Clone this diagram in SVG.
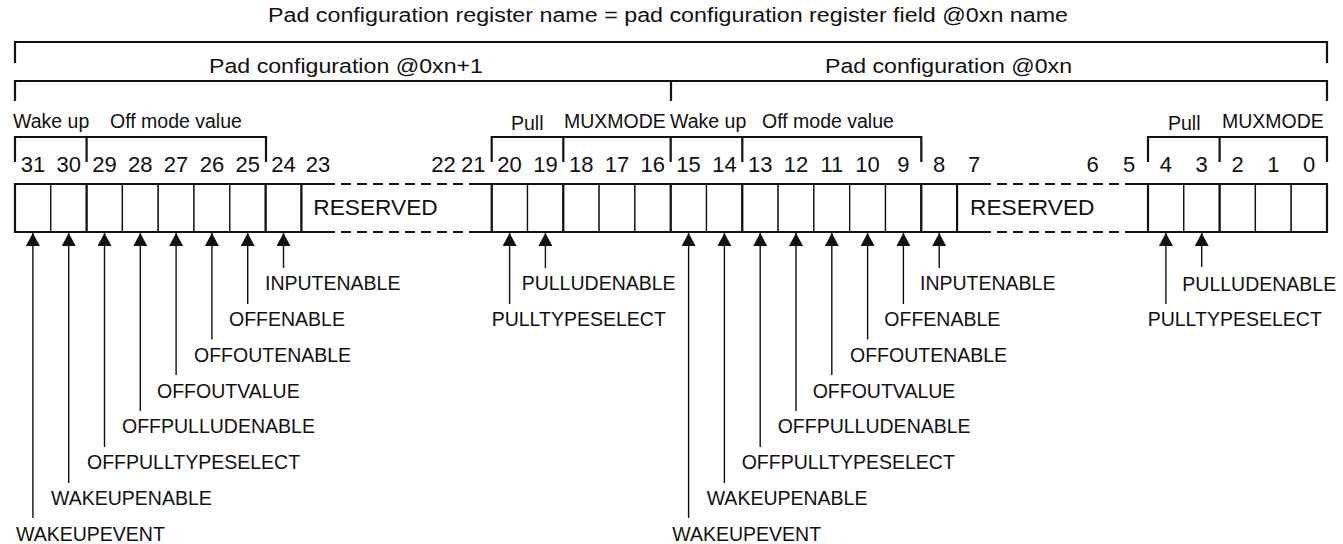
<svg xmlns="http://www.w3.org/2000/svg" width="1343" height="544" viewBox="0 0 1343 544">
<defs>
<style>
text{font-family:"Liberation Sans",Arial,sans-serif;fill:#111}
.hdr{font-size:20px}
.cfg{font-size:20.5px}
.fld{font-size:19.5px}
.bit{font-size:22px;text-anchor:middle}
.res{font-size:22.7px}
.lbl{font-size:19.5px}
.br{fill:none;stroke:#111;stroke-width:2.2}
.cell{fill:#fff;stroke:#111;stroke-width:1.3}
.thick{stroke:#111;stroke-width:2.2;fill:none}
.dash{stroke:#111;stroke-width:2.2;fill:none;stroke-dasharray:10 6}
.arr{stroke:#111;stroke-width:1.4;fill:none;marker-end:url(#ah)}
</style>
<marker id="ah" markerUnits="userSpaceOnUse" markerWidth="14" markerHeight="14" refX="13" refY="7" orient="auto">
<path d="M0,0 L13,7 L0,14 z" fill="#111"/>
</marker>
</defs>
<rect width="1343" height="544" fill="#fff"/>

<g id="header">
<text class="hdr" x="268" y="22" textLength="800" lengthAdjust="spacingAndGlyphs">Pad configuration register name = pad configuration register field @0xn name</text>
<path class="br" d="M15,63 V42 H1327 V63"/>
</g>

<g id="pad-config-n1">
<text class="cfg" x="209" y="73" textLength="274" lengthAdjust="spacingAndGlyphs">Pad configuration @0xn+1</text>
<path class="br" d="M15,101 V81 H671"/>
</g>
<g id="pad-config-n">
<text class="cfg" x="825" y="73" textLength="247" lengthAdjust="spacingAndGlyphs">Pad configuration @0xn</text>
<path class="br" d="M671,81 H1327 V101 M671,81 V101"/>
</g>

<g id="field-brackets">
<text class="fld" x="13" y="128">Wake up</text>
<text class="fld" x="110" y="128">Off mode value</text>
<path class="br" d="M15,162 V137 H266 V162 M86.6,137 V162"/>
<text class="fld" x="511" y="130">Pull</text>
<text class="fld" x="564" y="128">MUXMODE</text>
<text class="fld" x="670" y="128">Wake up</text>
<text class="fld" x="762" y="128">Off mode value</text>
<path class="br" d="M491.7,162 V137 H921.3 V162 M563.3,137 V162 M670.7,137 V162 M742.3,137 V162"/>
<text class="fld" x="1168" y="130">Pull</text>
<text class="fld" x="1222" y="128">MUXMODE</text>
<path class="br" d="M1148,162 V137 H1327 V162 M1219.6,137 V162"/>
</g>

<g id="bit-numbers">
<text class="bit" x="32.9" y="172">31</text>
<text class="bit" x="68.7" y="172">30</text>
<text class="bit" x="104.5" y="172">29</text>
<text class="bit" x="140.3" y="172">28</text>
<text class="bit" x="176.1" y="172">27</text>
<text class="bit" x="211.9" y="172">26</text>
<text class="bit" x="247.7" y="172">25</text>
<text class="bit" x="283.5" y="172">24</text>
<text class="bit" x="318" y="172">23</text>
<text class="bit" x="443.5" y="172">22</text>
<text class="bit" x="473.3" y="172">21</text>
<text class="bit" x="509.6" y="172">20</text>
<text class="bit" x="545.4" y="172">19</text>
<text class="bit" x="581.2" y="172">18</text>
<text class="bit" x="617" y="172">17</text>
<text class="bit" x="652.8" y="172">16</text>
<text class="bit" x="688.6" y="172">15</text>
<text class="bit" x="724.4" y="172">14</text>
<text class="bit" x="760.2" y="172">13</text>
<text class="bit" x="796" y="172">12</text>
<text class="bit" x="831.8" y="172">11</text>
<text class="bit" x="867.6" y="172">10</text>
<text class="bit" x="903.4" y="172">9</text>
<text class="bit" x="939.2" y="172">8</text>
<text class="bit" x="974" y="172">7</text>
<text class="bit" x="1092.5" y="172">6</text>
<text class="bit" x="1129" y="172">5</text>
<text class="bit" x="1165.9" y="172">4</text>
<text class="bit" x="1201.7" y="172">3</text>
<text class="bit" x="1237.5" y="172">2</text>
<text class="bit" x="1273.3" y="172">1</text>
<text class="bit" x="1309.1" y="172">0</text>
</g>

<g id="register-n1-high">
<rect class="cell" x="15" y="184" width="35.8" height="48"/>
<rect class="cell" x="50.8" y="184" width="35.8" height="48"/>
<rect class="cell" x="86.6" y="184" width="35.8" height="48"/>
<rect class="cell" x="122.4" y="184" width="35.8" height="48"/>
<rect class="cell" x="158.2" y="184" width="35.8" height="48"/>
<rect class="cell" x="194" y="184" width="35.8" height="48"/>
<rect class="cell" x="229.8" y="184" width="35.8" height="48"/>
<rect class="cell" x="265.6" y="184" width="35.8" height="48"/>
<path class="thick" d="M15,184 H301.4 V232 H15 Z M86.6,184 V232 M265.6,184 V232"/>
</g>
<g id="reserved-n1">
<path class="thick" d="M301.4,184 H325 M301.4,232 H325 M477,184 H491.7 M477,232 H491.7"/>
<path class="dash" d="M325,184 H477 M325,232 H477"/>
<text class="res" x="313.3" y="215">RESERVED</text>
</g>
<g id="register-mid">
<rect class="cell" x="491.7" y="184" width="35.8" height="48"/>
<rect class="cell" x="527.5" y="184" width="35.8" height="48"/>
<rect class="cell" x="563.3" y="184" width="35.8" height="48"/>
<rect class="cell" x="599.1" y="184" width="35.8" height="48"/>
<rect class="cell" x="634.9" y="184" width="35.8" height="48"/>
<rect class="cell" x="670.7" y="184" width="35.8" height="48"/>
<rect class="cell" x="706.5" y="184" width="35.8" height="48"/>
<rect class="cell" x="742.3" y="184" width="35.8" height="48"/>
<rect class="cell" x="778.1" y="184" width="35.8" height="48"/>
<rect class="cell" x="813.9" y="184" width="35.8" height="48"/>
<rect class="cell" x="849.7" y="184" width="35.8" height="48"/>
<rect class="cell" x="885.5" y="184" width="35.8" height="48"/>
<rect class="cell" x="921.3" y="184" width="35.8" height="48"/>
<path class="thick" d="M491.7,184 H957.1 V232 H491.7 Z M563.3,184 V232 M670.7,184 V232 M742.3,184 V232 M921.3,184 V232"/>
</g>
<g id="reserved-n">
<path class="thick" d="M957.1,184 H981 M957.1,232 H981 M1130,184 H1148 M1130,232 H1148"/>
<path class="dash" d="M981,184 H1130 M981,232 H1130"/>
<text class="res" x="970" y="215">RESERVED</text>
</g>
<g id="register-n-low">
<rect class="cell" x="1148" y="184" width="35.8" height="48"/>
<rect class="cell" x="1183.8" y="184" width="35.8" height="48"/>
<rect class="cell" x="1219.6" y="184" width="35.8" height="48"/>
<rect class="cell" x="1255.4" y="184" width="35.8" height="48"/>
<rect class="cell" x="1291.2" y="184" width="35.8" height="48"/>
<path class="thick" d="M1148,184 H1327 V232 H1148 Z M1219.6,184 V232"/>
</g>

<g id="connectors">
<line class="arr" x1="283.5" y1="268" x2="283.5" y2="233"/>
<line class="arr" x1="247.7" y1="304" x2="247.7" y2="233"/>
<line class="arr" x1="211.9" y1="339.5" x2="211.9" y2="233"/>
<line class="arr" x1="176.1" y1="375" x2="176.1" y2="233"/>
<line class="arr" x1="140.3" y1="411" x2="140.3" y2="233"/>
<line class="arr" x1="104.5" y1="447" x2="104.5" y2="233"/>
<line class="arr" x1="68.7" y1="483" x2="68.7" y2="233"/>
<line class="arr" x1="32.9" y1="518" x2="32.9" y2="233"/>
<line class="arr" x1="509.6" y1="304" x2="509.6" y2="233"/>
<line class="arr" x1="545.4" y1="268" x2="545.4" y2="233"/>
<line class="arr" x1="939.2" y1="268" x2="939.2" y2="233"/>
<line class="arr" x1="903.4" y1="304" x2="903.4" y2="233"/>
<line class="arr" x1="867.6" y1="339.5" x2="867.6" y2="233"/>
<line class="arr" x1="831.8" y1="375" x2="831.8" y2="233"/>
<line class="arr" x1="796" y1="411" x2="796" y2="233"/>
<line class="arr" x1="760.2" y1="447" x2="760.2" y2="233"/>
<line class="arr" x1="724.4" y1="483" x2="724.4" y2="233"/>
<line class="arr" x1="688.6" y1="518" x2="688.6" y2="233"/>
<line class="arr" x1="1165.9" y1="304" x2="1165.9" y2="233"/>
<line class="arr" x1="1201.7" y1="267" x2="1201.7" y2="233"/>
</g>

<g id="labels-n1">
<text class="lbl" x="265" y="290">INPUTENABLE</text>
<text class="lbl" x="229" y="325.5">OFFENABLE</text>
<text class="lbl" x="194" y="361.5">OFFOUTENABLE</text>
<text class="lbl" x="157" y="397.5">OFFOUTVALUE</text>
<text class="lbl" x="122" y="433">OFFPULLUDENABLE</text>
<text class="lbl" x="87" y="469">OFFPULLTYPESELECT</text>
<text class="lbl" x="51" y="504.5">WAKEUPENABLE</text>
<text class="lbl" x="16" y="540.5">WAKEUPEVENT</text>
<text class="lbl" x="521.7" y="290">PULLUDENABLE</text>
<text class="lbl" x="491.7" y="325.5">PULLTYPESELECT</text>
</g>
<g id="labels-n">
<text class="lbl" x="920" y="290">INPUTENABLE</text>
<text class="lbl" x="884.3" y="325.5">OFFENABLE</text>
<text class="lbl" x="850" y="361.5">OFFOUTENABLE</text>
<text class="lbl" x="812.7" y="397.5">OFFOUTVALUE</text>
<text class="lbl" x="777.7" y="433">OFFPULLUDENABLE</text>
<text class="lbl" x="741.7" y="469">OFFPULLTYPESELECT</text>
<text class="lbl" x="706.7" y="504.5">WAKEUPENABLE</text>
<text class="lbl" x="672.3" y="540.5">WAKEUPEVENT</text>
<text class="lbl" x="1182.3" y="291">PULLUDENABLE</text>
<text class="lbl" x="1147.7" y="325.5">PULLTYPESELECT</text>
</g>
</svg>
